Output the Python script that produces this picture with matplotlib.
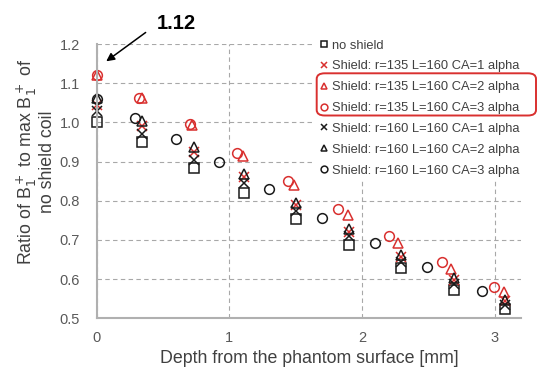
import matplotlib
matplotlib.use("Agg")
import matplotlib.pyplot as plt
from matplotlib.patches import FancyBboxPatch

plt.rcParams['font.family'] = ['Liberation Sans', 'DejaVu Sans']

# ---- data ----
depth_main = [0, 0.34, 0.73, 1.11, 1.50, 1.90, 2.29, 2.69, 3.08]
no_shield = [1.00, 0.95, 0.885, 0.82, 0.754, 0.688, 0.629, 0.573, 0.523]
r135_ca1 = [1.045, 0.99, 0.925, 0.86, 0.79, 0.72, 0.657, 0.598, 0.543]
r160_ca1 = [1.03, 0.97, 0.905, 0.845, 0.775, 0.71, 0.645, 0.588, 0.535]
r160_ca2 = [1.062, 1.004, 0.937, 0.868, 0.795, 0.728, 0.662, 0.603, 0.547]

depth_r135_ca2 = [0, 0.34, 0.72, 1.10, 1.49, 1.89, 2.27, 2.67, 3.07]
r135_ca2 = [1.12, 1.062, 0.993, 0.915, 0.84, 0.764, 0.693, 0.627, 0.567]

depth_r135_ca3 = [0, 0.32, 0.70, 1.06, 1.44, 1.82, 2.20, 2.60, 2.99]
r135_ca3 = [1.12, 1.062, 0.995, 0.923, 0.85, 0.78, 0.709, 0.643, 0.581]

depth_r160_ca3 = [0, 0.29, 0.60, 0.925, 1.30, 1.70, 2.10, 2.49, 2.90]
r160_ca3 = [1.06, 1.012, 0.959, 0.90, 0.83, 0.757, 0.692, 0.63, 0.571]

x_ticks = [0, 1, 2, 3]
y_ticks = [0.5, 0.6, 0.7, 0.8, 0.9, 1.0, 1.1, 1.2]

RED = '#d9302f'
BLK = '#1a1a1a'

fig = plt.figure(figsize=(5.37, 3.71), dpi=100)
ax = fig.add_axes([0.180, 0.142, 0.791, 0.739])

ms = 6.5
mew = 1.1
common = dict(ls='none', clip_on=False)
ax.plot(depth_main, no_shield, marker='s', ms=ms, mfc='none', mec=BLK, mew=mew, label='no shield', **common)
ax.plot(depth_main, r135_ca1, marker='x', ms=ms, mec=RED, mew=mew, label='Shield: r=135 L=160 CA=1 alpha', **common)
ax.plot(depth_r135_ca2, r135_ca2, marker='^', ms=ms + 0.5, mfc='none', mec=RED, mew=mew, label='Shield: r=135 L=160 CA=2 alpha', **common)
ax.plot(depth_r135_ca3, r135_ca3, marker='o', ms=ms + 0.5, mfc='none', mec=RED, mew=mew, label='Shield: r=135 L=160 CA=3 alpha', **common)
ax.plot(depth_main, r160_ca1, marker='x', ms=ms, mec=BLK, mew=mew, label='Shield: r=160 L=160 CA=1 alpha', **common)
ax.plot(depth_main, r160_ca2, marker='^', ms=ms + 0.5, mfc='none', mec=BLK, mew=mew, label='Shield: r=160 L=160 CA=2 alpha', **common)
ax.plot(depth_r160_ca3, r160_ca3, marker='o', ms=ms + 0.5, mfc='none', mec=BLK, mew=mew, label='Shield: r=160 L=160 CA=3 alpha', **common)

ax.set_xlim(0, 3.2)
ax.set_ylim(0.5, 1.2)
ax.set_xticks(x_ticks)
ax.set_xticklabels([str(t) for t in x_ticks])
ax.set_yticks(y_ticks)
ax.set_yticklabels([f'{t:.1f}' for t in y_ticks])
ax.tick_params(length=0, labelsize=10.5, colors='#595959')
ax.tick_params(axis='y', pad=12)
ax.tick_params(axis='x', pad=9)
ax.grid(True, ls=(0, (4, 3)), color='#a8a8a8', lw=0.8)
ax.set_axisbelow(True)
for s in ['top', 'right']:
    ax.spines[s].set_visible(False)
for s in ['left', 'bottom']:
    ax.spines[s].set_color('#b0b0b0')
    ax.spines[s].set_linewidth(1.5)

ax.set_xlabel('Depth from the phantom surface [mm]', fontsize=12.8, color='#404040', labelpad=4)
ax.set_ylabel('Ratio of B$_1^+$ to max B$_1^+$ of\nno shield coil', fontsize=12.8, color='#404040',
              linespacing=1.0)
ax.yaxis.set_label_coords(-0.095, 0.57)

leg = ax.legend(loc='upper left', bbox_to_anchor=(0.514, 1.026), borderaxespad=0,
                frameon=True, fancybox=False, edgecolor='none', facecolor='white', framealpha=1,
                fontsize=9.3, handlelength=1.0, handletextpad=0.15, labelspacing=0.68,
                borderpad=0.2, markerscale=0.7)
for t in leg.get_texts():
    t.set_color('#404040')

# annotation
ax.annotate('', xy=(0.055, 1.152), xytext=(0.386, 1.234), xycoords='data', textcoords='data',
            annotation_clip=False,
            arrowprops=dict(arrowstyle='-|>', color='black', lw=1.1, mutation_scale=12))
ax.text(0.597, 1.252, '1.12', fontsize=14.5, fontweight='bold', ha='center', va='center', clip_on=False)

# red rounded box around two legend entries
W, H = 537.0, 371.0
x0, x1 = 316.7, 536.0
y0, y1 = 73.3, 115.5
box = FancyBboxPatch((x0 / W, 1 - y1 / H), (x1 - x0) / W, (y1 - y0) / H,
                     boxstyle='round,pad=0,rounding_size=0.015', transform=fig.transFigure,
                     fill=False, edgecolor=RED, lw=1.4, zorder=10)
fig.patches.append(box)

fig.savefig('out.png', dpi=100)
